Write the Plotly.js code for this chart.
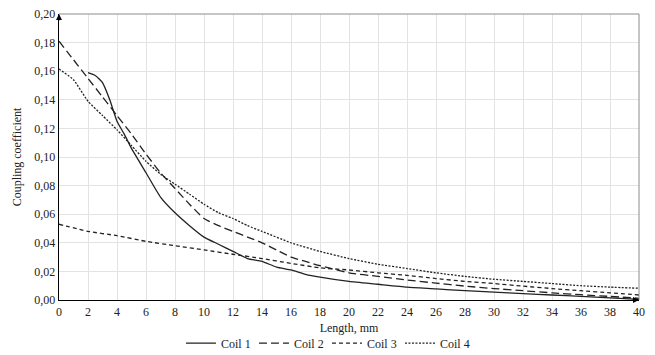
<!DOCTYPE html>
<html>
<head>
<meta charset="utf-8">
<script src="https://cdn.plot.ly/plotly-3.0.1.min.js"></script>
<style>html,body{margin:0;padding:0;background:#fff;}#chart{width:655px;height:355px;}</style>
</head>
<body>
<div id="chart"></div>
<script>
const seriesNames = ["Coil 1", "Coil 2", "Coil 3", "Coil 4"];

const coil1X = [2,2.5,3,3.5,4,4.5,5,6,7,8,9,10,11,12,13,14,15,16,17,18,20,22,24,26,28,30,32,34,36,38,40];
const coil1Y = [0.159,0.157,0.152,0.140,0.125,0.116,0.106,0.089,0.072,0.061,0.052,0.044,0.039,0.034,0.029,0.027,0.023,0.021,0.018,0.016,0.013,0.011,0.009,0.0078,0.0065,0.0055,0.0045,0.0035,0.0025,0.0015,0.0005];

const coil2X = [0,1,2,3,4,5,6,7,8,9,10,11,12,13,14,15,16,17,18,20,22,24,26,28,30,32,34,36,38,40];
const coil2Y = [0.181,0.168,0.155,0.142,0.129,0.116,0.102,0.089,0.078,0.067,0.057,0.052,0.048,0.044,0.040,0.035,0.030,0.027,0.024,0.019,0.0165,0.014,0.0118,0.0097,0.0080,0.0065,0.0050,0.0037,0.0025,0.0012];

const coil3X = [0,2,4,6,8,10,12,14,16,18,20,22,24,26,28,30,32,34,36,38,40];
const coil3Y = [0.053,0.048,0.045,0.041,0.038,0.035,0.032,0.029,0.0256,0.0225,0.021,0.019,0.0172,0.015,0.013,0.0115,0.0097,0.0080,0.0065,0.005,0.0035];

const coil4X = [0,1,2,3,4,5,6,7,8,9,10,11,12,13,14,16,18,20,22,24,26,28,30,32,34,36,38,40];
const coil4Y = [0.1615,0.154,0.139,0.129,0.119,0.108,0.097,0.088,0.081,0.074,0.067,0.061,0.057,0.052,0.048,0.040,0.034,0.029,0.025,0.022,0.019,0.0165,0.0145,0.013,0.0115,0.010,0.009,0.0082];

const xTicks = [0,2,4,6,8,10,12,14,16,18,20,22,24,26,28,30,32,34,36,38,40];
const yTicks = [0,0.02,0.04,0.06,0.08,0.10,0.12,0.14,0.16,0.18,0.20];

const font = "Times New Roman, Liberation Serif, DejaVu Serif, Noto Serif, serif";
const ink = "#222";

const mk = (name, x, y, dash) => ({
  type: "scatter", mode: "lines", name: name, x: x, y: y,
  line: {color: ink, width: 1.3, dash: dash, shape: "spline", smoothing: 0.5}
});

const data = [
  mk(seriesNames[0], coil1X, coil1Y, "solid"),
  mk(seriesNames[1], coil2X, coil2Y, "8px,4px"),
  mk(seriesNames[2], coil3X, coil3Y, "4px,3px"),
  mk(seriesNames[3], coil4X, coil4Y, "2px,1.5px")
];

const layout = {
  width: 655, height: 355,
  margin: {l: 59, r: 16, t: 14, b: 55, autoexpand: false},
  paper_bgcolor: "#fff", plot_bgcolor: "#fff",
  separators: ", ",
  font: {family: font, size: 12, color: ink},
  showlegend: true,
  legend: {orientation: "h", x: 0.462, xanchor: "center", y: -0.1, yanchor: "top",
           font: {family: font, size: 12, color: ink}, itemwidth: 30, tracegroupgap: 0,
           entrywidth: 28, entrywidthmode: "pixels"},
  xaxis: {
    range: [0, 40], tickvals: xTicks, ticktext: xTicks.map(String), automargin: false,
    showgrid: true, gridcolor: "#e3e3e3", gridwidth: 1,
    showline: true, linecolor: "#000", linewidth: 1.3,
    zeroline: false, ticks: "", tickfont: {family: font, size: 12, color: ink},
    title: {text: "Length, mm", font: {family: font, size: 12, color: ink}, standoff: 6}
  },
  yaxis: {
    range: [0, 0.2], tickvals: yTicks, tickformat: ".2f", automargin: false,
    showgrid: true, gridcolor: "#e3e3e3", gridwidth: 1,
    showline: true, linecolor: "#000", linewidth: 1.3,
    zeroline: false, ticks: "", ticklen: 0, tickfont: {family: font, size: 12, color: ink},
    title: {text: "Coupling coefficient", font: {family: font, size: 12, color: ink}, standoff: 10}
  },
  shapes: [
    {type: "line", xref: "paper", yref: "paper", x0: 0, x1: 1, y0: 1, y1: 1, line: {color: "#8c8c8c", width: 1}},
    {type: "line", xref: "paper", yref: "paper", x0: 1, x1: 1, y0: 0, y1: 1, line: {color: "#8c8c8c", width: 1}}
  ],
  annotations: [
    {x: 0, y: 0.2, xref: "x", yref: "y", ax: 0, ay: 8, text: "", showarrow: true,
     arrowhead: 2, arrowsize: 1, arrowwidth: 1.2, arrowcolor: "#000"},
    {x: 40, y: 0, xref: "x", yref: "y", ax: -8, ay: 0, text: "", showarrow: true,
     arrowhead: 2, arrowsize: 1, arrowwidth: 1.2, arrowcolor: "#000"}
  ]
};

Plotly.newPlot("chart", data, layout, {displayModeBar: false, staticPlot: true});
</script>
</body>
</html>
